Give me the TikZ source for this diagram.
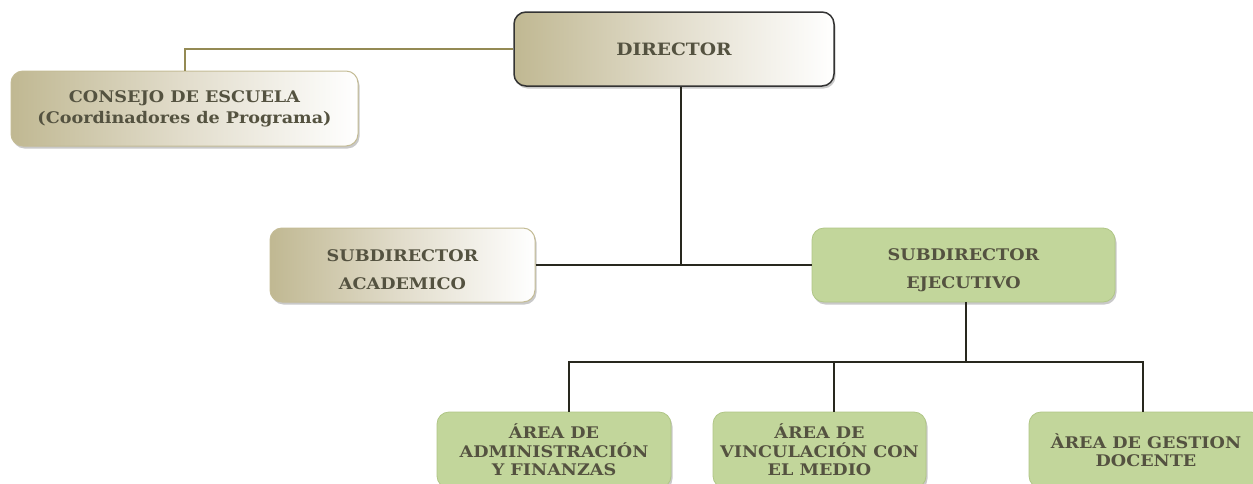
\documentclass[tikz,border=0pt]{standalone}
\usepackage{fontspec}
\setmainfont{DejaVu Serif}[FakeStretch=1.1]
\usetikzlibrary{shadows,calc}
\definecolor{tanL}{RGB}{192,184,146}
\definecolor{tanM}{RGB}{226,221,204}
\definecolor{tanB}{RGB}{196,188,150}
\definecolor{greenF}{RGB}{194,214,155}
\definecolor{greenB}{RGB}{176,198,134}
\definecolor{txt}{RGB}{84,82,64}
\definecolor{olive}{RGB}{148,138,84}
\definecolor{darkline}{RGB}{40,40,30}
\newcommand{\fs}[1]{\bfseries\fontsize{16}{#1}\selectfont}
\tikzset{
  box/.style={rounded corners=12pt, align=center, text=txt,
    font=\fs{18.5}, inner sep=0pt,
    drop shadow={shadow xshift=1.5pt, shadow yshift=-2.5pt, opacity=0.35, fill=black!60}},
  tanbox/.style={box, draw=tanB, line width=1pt, left color=tanL, right color=white, middle color=tanM},
  dirbox/.style={box, draw=black!80, line width=1.5pt, left color=tanL, right color=white, middle color=tanM},
  greenbox/.style={box, draw=greenB, line width=0.8pt, fill=greenF},
  conn/.style={draw=darkline, line width=2.3pt},
  tanconn/.style={draw=olive, line width=2pt}
}
\begin{document}
\begin{tikzpicture}[x=1pt,y=-1pt]
\useasboundingbox (0,0) rectangle (1253,483);
\clip (0,0) rectangle (1253,483);
\fill[white] (0,0) rectangle (1253,483);
% nodes
\node[dirbox, minimum width=320pt, minimum height=74pt, font=\bfseries\fontsize{17}{20}\selectfont] (director) at (674,49) {DIRECTOR};
\node[tanbox, minimum width=347pt, minimum height=75pt, font=\fs{21}] (consejo) at (184.5,108.5) {CONSEJO DE ESCUELA\\(Coordinadores de Programa)};
\node[tanbox, minimum width=265pt, minimum height=74pt, font=\fs{28}] (academico) at (402.5,265) {\rule{0pt}{22pt}SUBDIRECTOR\\ACADEMICO};
\node[greenbox, minimum width=303pt, minimum height=74pt, font=\fs{28}] (ejecutivo) at (963.5,265) {\rule{0pt}{22pt}SUBDIRECTOR\\EJECUTIVO};
\node[greenbox, minimum width=234pt, minimum height=76pt] (areaA) at (554,450) {ÁREA DE\\ADMINISTRACIÓN\\Y FINANZAS};
\node[greenbox, minimum width=213pt, minimum height=76pt] (areaB) at (819.5,450) {ÁREA DE\\VINCULACIÓN CON\\EL MEDIO};
\node[greenbox, minimum width=234pt, minimum height=76pt, font=\fs{17.5}] (areaC) at (1146,450) {ÀREA DE GESTION\\DOCENTE};
% junction coordinates
\coordinate (j1) at (681,266);
\coordinate (j2) at (966,362);
\coordinate (hA) at (569,362);
\coordinate (hB) at (834,362);
\coordinate (hC) at (1143,362);
% connectors
\draw[tanconn] (consejo.north) |- (director.west);
\draw[conn] (director.south -| j1) -- (j1);
\draw[conn] (academico.east) -- (ejecutivo.west);
\draw[conn] (ejecutivo.south -| j2) -- (j2);
\draw[conn, line cap=rect] (hA) -- (hC);
\draw[conn] (hA) -- (hA |- areaA.north);
\draw[conn] (hB) -- (hB |- areaB.north);
\draw[conn] (hC) -- (hC |- areaC.north);
\end{tikzpicture}
\end{document}
